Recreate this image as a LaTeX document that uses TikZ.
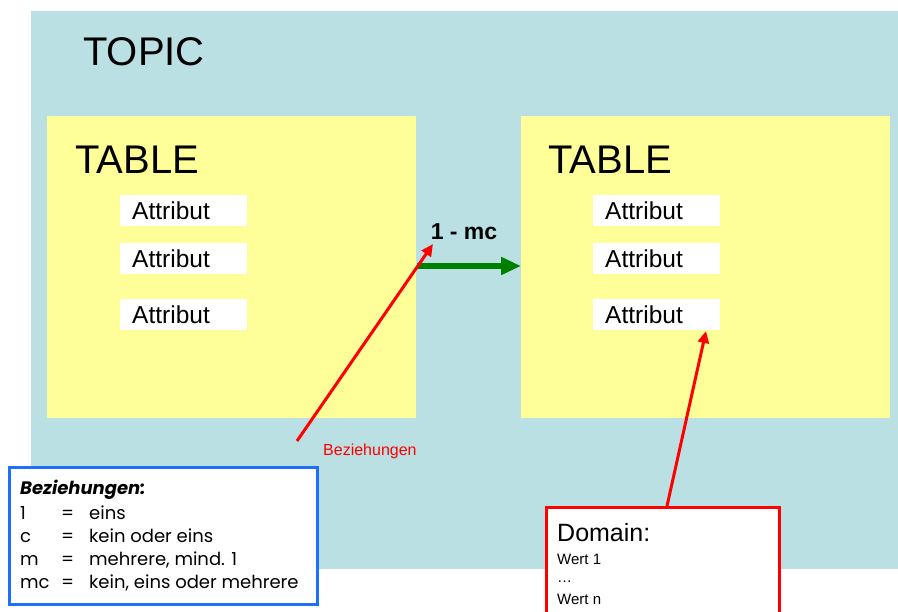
\documentclass[tikz,border=0pt]{standalone}
\usepackage{fontspec}
\setmainfont{Liberation Sans}
\newfontfamily\legfont{Poppins}
\usetikzlibrary{arrows.meta}
\definecolor{topicbg}{RGB}{186,224,228}
\definecolor{tableyel}{RGB}{255,255,153}
\definecolor{relgreen}{RGB}{0,128,0}
\definecolor{legblue}{RGB}{30,110,255}
\tikzset{
  tablebox/.style={fill=tableyel, draw=none, minimum width=369pt, minimum height=302pt, anchor=north west, inner sep=0},
  attr/.style={fill=white, draw=none, anchor=north west, text width=103pt, inner xsep=12pt, inner ysep=0, minimum height=31pt, align=left, font=\fontsize{24.5}{28}\selectfont},
  tabletitle/.style={anchor=base west, inner sep=0, font=\fontsize{40}{44}\selectfont},
  redarrow/.style={draw=red, line width=3pt, -{Triangle[length=12pt,width=11pt]}},
  smalltext/.style={anchor=base west, inner sep=0, font=\fontsize{15}{17}\selectfont}
}
\begin{document}
\begin{tikzpicture}[x=1pt,y=-1pt]
\useasboundingbox (0,0) rectangle (898,612);
\fill[white] (0,0) rectangle (898,612);
% topic background
\node[fill=topicbg, draw=none, anchor=north west, minimum width=867pt, minimum height=558pt, inner sep=0] (topic) at (31,11) {};
\node[anchor=base west, inner sep=0, font=\fontsize{40}{44}\selectfont] (topiclbl) at (83,66) {TOPIC};
% tables
\node[tablebox] (tabL) at (47,116) {};
\node[tablebox] (tabR) at (521,116) {};
\node[tabletitle] (tlL) at (75,174) {TABLE};
\node[tabletitle] (tlR) at (548,174) {TABLE};
% attributes
\node[attr] (aL1) at (120,195) {Attribut};
\node[attr] (aL2) at (120,243) {Attribut};
\node[attr] (aL3) at (120,299) {Attribut};
\node[attr] (aR1) at (593,195) {Attribut};
\node[attr] (aR2) at (593,243) {Attribut};
\node[attr] (aR3) at (593,299) {Attribut};
% relation
\coordinate (gS) at (417,266);
\coordinate (gE) at (521,266);
\draw[relgreen, line width=6pt, -{Triangle[length=20pt,width=17pt]}] (gS) -- (gE);
\node[anchor=base, inner sep=0, font=\bfseries\fontsize{23}{26}\selectfont] (card) at (464,240) {1 - mc};
% red label
\node[smalltext, text=red, font=\fontsize{16}{18}\selectfont] (bezlbl) at (323,456) {Beziehungen};
\coordinate (r1S) at (297,441);
\coordinate (r1E) at (433,244);
\draw[redarrow] (r1S) -- (r1E);
% legend
\node[draw=legblue, line width=3pt, fill=white, anchor=north west, minimum width=308pt, minimum height=137pt, inner sep=0] (legend) at (8,466) {};
\node[anchor=base west, inner sep=0, font=\legfont\fontsize{18}{23}\selectfont] (legtext) at (20,495)
{\begin{tabular}[t]{@{}l@{}}
\textbf{\textit{Beziehungen:}}\\[2pt]
\makebox[41pt][l]{1}\makebox[28pt][l]{=}eins\\
\makebox[41pt][l]{c}\makebox[28pt][l]{=}kein oder eins\\
\makebox[41pt][l]{m}\makebox[28pt][l]{=}mehrere, mind. 1\\
\makebox[41pt][l]{mc}\makebox[28pt][l]{=}kein, eins oder mehrere
\end{tabular}};
% domain
\node[draw=red, line width=3pt, fill=white, anchor=north west, minimum width=233pt, minimum height=130pt, inner sep=0] (domain) at (545,506) {};
\node[anchor=base west, inner sep=0, font=\fontsize{25}{28}\selectfont] (domlbl) at (557,542) {Domain:};
\node[smalltext] (w1) at (557,564) {Wert 1};
\node[smalltext] (wd) at (557,582) {\dots};
\node[smalltext] (wn) at (557,604) {Wert n};
\coordinate (r2S) at (667,506);
\coordinate (r2E) at (706,331);
\draw[redarrow] (r2S) -- (r2E);
\end{tikzpicture}
\end{document}
